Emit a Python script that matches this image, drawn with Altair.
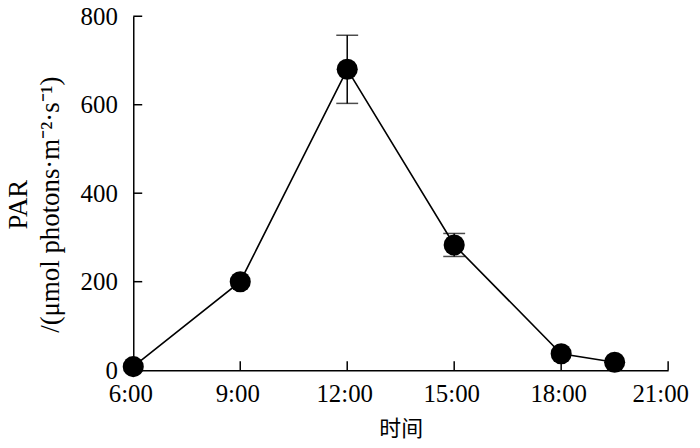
import altair as alt
import pandas as pd

hours = [6, 9, 12, 15, 18, 19.5]
par = [8, 200, 680, 283, 37, 18]
err = [0, 0, 77, 26, 0, 0]
x_ticks = [6, 9, 12, 15, 18, 21]
y_ticks = [0, 200, 400, 600, 800]

df = pd.DataFrame({"h": hours, "par": par, "err": err})
df["lo"] = df["par"] - df["err"]
df["hi"] = df["par"] + df["err"]
edf = df[df["err"] > 0]
xt = pd.DataFrame({"h": x_ticks})
yt = pd.DataFrame({"par": y_ticks})

W, H = 538, 356
TICK = 9

xscale = alt.Scale(domain=[6, 21], nice=False, zero=False)
yscale = alt.Scale(domain=[0, 800], nice=False)

xaxis = alt.Axis(values=x_ticks, labelExpr="datum.value + ':00'", ticks=False, grid=False,
                 domainColor="black", domainWidth=1.5,
                 labelFont="Liberation Serif", labelFontSize=25, labelColor="black",
                 labelPadding=12, labelFlush=False, labelOverlap=False,
                 labelOffset={"condition": {"test": "datum.value == 21", "value": -8}, "value": -3},
                 title="时间", titleFont="Noto Sans CJK SC", titleFontSize=22,
                 titleFontWeight="normal", titleColor="black", titleY=59, titleBaseline="middle")
yaxis = alt.Axis(values=y_ticks, ticks=False, grid=False,
                 domainColor="black", domainWidth=1.5,
                 labelFont="Liberation Serif", labelFontSize=25, labelColor="black",
                 labelPadding=16, labelFlush=False, labelOverlap=False,
                 title=["PAR", "/(μmol photons·m⁻²·s⁻¹)"], titleFont="Liberation Serif",
                 titleFontSize=27, titleFontWeight="normal", titleColor="black",
                 titleAngle=-90, titleAlign="center", titleBaseline="middle",
                 titleX=-115, titleY=189, titleLineHeight=32, titleLimit=400)

X = alt.X("h:Q", scale=xscale, axis=xaxis)
Y = alt.Y("par:Q", scale=yscale, axis=yaxis)

base = alt.Chart(df)
line = base.mark_line(color="black", strokeWidth=1.6).encode(x=X, y=Y)
ebar = alt.Chart(edf).mark_rule(color="black", strokeWidth=1.5).encode(
    x=X, y=alt.Y("lo:Q", scale=yscale, axis=yaxis), y2="hi:Q"
)
cap_hi = alt.Chart(edf).mark_tick(color="black", orient="horizontal", size=22, thickness=1.5).encode(
    x=X, y=alt.Y("hi:Q", scale=yscale, axis=yaxis)
)
cap_lo = alt.Chart(edf).mark_tick(color="black", orient="horizontal", size=22, thickness=1.5).encode(
    x=X, y=alt.Y("lo:Q", scale=yscale, axis=yaxis)
)
pts = base.mark_circle(color="black", opacity=1, size=450).encode(x=X, y=Y)
xtick = alt.Chart(xt).mark_rule(color="black", strokeWidth=1.5).encode(
    x=X, y=alt.value(H), y2=alt.value(H - TICK)
)
ytick = alt.Chart(yt).mark_rule(color="black", strokeWidth=1.5).encode(
    y=Y, x=alt.value(0), x2=alt.value(TICK)
)

chart = alt.layer(line, xtick, ytick, ebar, cap_hi, cap_lo, pts).properties(
    width=W, height=H,
    autosize=alt.AutoSizeParams(type="none"),
    padding={"left": 126, "top": 7, "right": 24, "bottom": 76},
    background="white",
).configure_view(stroke=None)

chart.save("out.html", embed_options={"renderer": "svg", "actions": False})
